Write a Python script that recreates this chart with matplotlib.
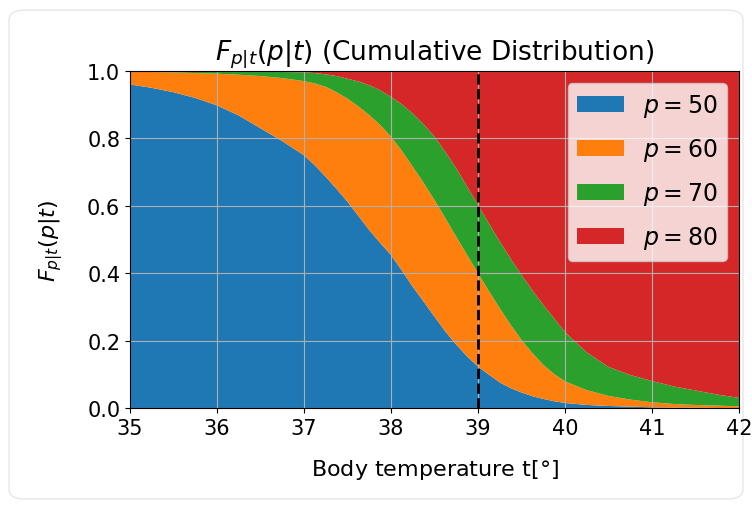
import numpy as np
import matplotlib
matplotlib.use("Agg")
import matplotlib.pyplot as plt
from matplotlib.patches import FancyBboxPatch

# Temperature grid and cumulative values
temps = [35.00, 35.25, 35.50, 35.75, 36.00, 36.25, 36.50, 36.75,
         37.00, 37.125, 37.25, 37.375, 37.50, 37.625, 37.75, 37.875,
         38.00, 38.125, 38.25, 38.375, 38.50, 38.625, 38.75, 38.875,
         39.00, 39.125, 39.25, 39.375, 39.50, 39.625, 39.75, 39.875,
         40.00, 40.25, 40.50, 40.75, 41.00, 41.25, 41.50, 41.75, 42.00]

F_p50 = [0.960, 0.950, 0.937, 0.920, 0.898, 0.868, 0.830, 0.792,
         0.750, 0.720, 0.686, 0.650, 0.612, 0.570, 0.528, 0.490,
         0.454, 0.408, 0.360, 0.316, 0.271, 0.227, 0.188, 0.153,
         0.123, 0.099, 0.076, 0.059, 0.046, 0.035, 0.027, 0.020,
         0.015, 0.009, 0.006, 0.004, 0.002, 0.001, 0.001, 0.000, 0.000]

F_p60 = [0.998, 0.997, 0.996, 0.994, 0.992, 0.989, 0.985, 0.979,
         0.970, 0.963, 0.953, 0.937, 0.918, 0.895, 0.869, 0.840,
         0.805, 0.763, 0.716, 0.668, 0.617, 0.563, 0.508, 0.454,
         0.400, 0.347, 0.296, 0.247, 0.202, 0.163, 0.128, 0.101,
         0.079, 0.053, 0.036, 0.025, 0.017, 0.012, 0.009, 0.007, 0.005]

F_p70 = [1.000, 1.000, 1.000, 1.000, 0.999, 0.999, 0.998, 0.997,
         0.996, 0.994, 0.990, 0.985, 0.977, 0.969, 0.958, 0.943,
         0.923, 0.901, 0.874, 0.842, 0.805, 0.760, 0.711, 0.657,
         0.602, 0.548, 0.494, 0.443, 0.395, 0.349, 0.306, 0.266,
         0.225, 0.165, 0.122, 0.098, 0.080, 0.064, 0.052, 0.040, 0.030]

labels = [r"$p=50$", r"$p=60$", r"$p=70$", r"$p=80$"]
t_obs = 39.0

fig = plt.figure(figsize=(7.52, 5.06), dpi=100)

# light card outline like the screenshot
card = FancyBboxPatch((0.012, 0.012), 0.976, 0.966, boxstyle="round,pad=0,rounding_size=0.02",
                      transform=fig.transFigure, facecolor="white", edgecolor="#e6e6e6",
                      linewidth=1.0, zorder=-10)
fig.patches.append(card)

ax = fig.add_axes([0.1729, 0.1917, 0.8098, 0.666])

t = np.array(temps)
levels = [np.zeros_like(t), np.array(F_p50), np.array(F_p60), np.array(F_p70), np.ones_like(t)]
for i in range(4):
    ax.fill_between(t, levels[i], levels[i + 1], label=labels[i], linewidth=0)

ax.axvline(t_obs, color="k", linestyle="--", linewidth=2)

ax.set_xlim(35, 42)
ax.set_ylim(0, 1)
ax.grid(True)
ax.tick_params(labelsize=15)
ax.set_xlabel(r"Body temperature t[$\degree$]", fontsize=16, labelpad=14)
ax.set_ylabel(r"$F_{p|t}(p|t)$", fontsize=16, labelpad=16)
ax.set_title(r"$F_{p|t}(p|t)$ (Cumulative Distribution)", fontsize=19, pad=9)
ax.legend(loc="upper right", fontsize=17, labelspacing=0.72)

fig.savefig("out.png", dpi=100)
